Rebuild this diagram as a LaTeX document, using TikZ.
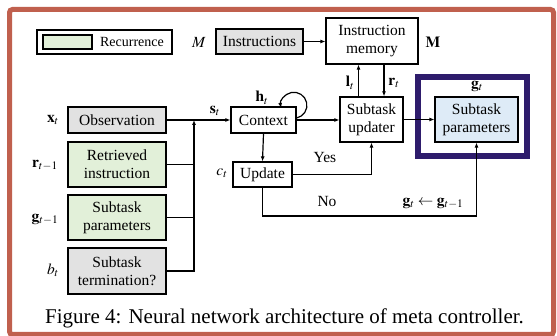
\documentclass[tikz,border=0pt]{standalone}
\usepackage{mathptmx}
\usepackage{fontspec}
\setmainfont{Liberation Serif}
\usetikzlibrary{arrows.meta}
\definecolor{framered}{RGB}{192,96,78}
\definecolor{gatepurple}{RGB}{46,28,108}
\definecolor{recgreen}{RGB}{226,240,217}
\definecolor{inputgray}{RGB}{226,226,226}
\definecolor{parblue}{RGB}{222,235,247}

\begin{document}
\begin{tikzpicture}[x=1pt,y=1pt]
  \tikzstyle{every node}+=[inner sep=0pt, font=\fontsize{15.5}{18}\selectfont]
  \tikzstyle{box}=[draw=black, line width=1.2pt, align=center]
  \tikzstyle{wire}=[line width=1.2pt]
  \tikzstyle{arr}=[line width=1.2pt, -{Latex[length=5pt,width=4pt]}]
  \useasboundingbox (0,0) rectangle (557,-336);
  \draw [framered, line width=5pt, rounded corners=3pt] (9.5,-9.5) rectangle (553.5,-334.5);
  % legend
  \node [box, minimum width=135, minimum height=24] (legend) at (104.5,-42) {};
  \node [box, fill=recgreen, minimum width=49, minimum height=14] (swatch) at (67.5,-42) {};
  \node [font=\fontsize{14}{16}\selectfont] (legendtext) at (132,-42) {Recurrence};
  % memory part
  \node (mlabel) at (199,-42) {$M$};
  \node [box, fill=inputgray, minimum width=87, minimum height=25] (instr) at (259.5,-41.5) {Instructions};
  \node [box, minimum width=92, minimum height=46] (mem) at (372,-41) {Instruction\\memory};
  \node (memlabel) at (433,-42) {$\mathbf{M}$};
  \node [box, minimum width=63, minimum height=45] (upd) at (371.5,-119.5) {Subtask\\updater};
  \draw [gatepurple, line width=6pt] (418,-77) rectangle (527,-156);
  \node (gtlabel) at (477,-86) {$\mathbf{g}_t$};
  \node [box, fill=parblue, minimum width=83, minimum height=45] (par) at (476.5,-119.5) {Subtask\\parameters};
  % controller
  \node [box, minimum width=65, minimum height=26] (ctx) at (263.5,-120) {Context};
  \node [box, minimum width=59, minimum height=25] (upt) at (262.5,-174.5) {Update};
  % inputs
  \node [box, fill=inputgray, minimum width=98, minimum height=26] (obs) at (117,-120) {Observation};
  \node [box, fill=recgreen, minimum width=98, minimum height=45] (ret) at (117,-164.5) {Retrieved\\instruction};
  \node [box, fill=recgreen, minimum width=98, minimum height=45] (gpar) at (117,-217.5) {Subtask\\parameters};
  \node [box, fill=inputgray, minimum width=98, minimum height=46] (term) at (117,-271) {Subtask\\termination?};
  \node (xlabel) at (53,-120) {$\mathbf{x}_t$};
  \node (rlabel) at (45,-165) {$\mathbf{r}_{t-1}$};
  \node (glabel) at (45,-219) {$\mathbf{g}_{t-1}$};
  \node (blabel) at (53,-270) {$b_t$};
  \node (slabel) at (215,-111) {$\mathbf{s}_t$};
  \node (hlabel) at (262,-98) {$\mathbf{h}_t$};
  \node (clabel) at (222,-173) {$c_t$};
  \node (llabel) at (350,-83) {$\mathbf{l}_t$};
  \node (rtlabel) at (394,-83) {$\mathbf{r}_t$};
  \node (yes) at (325,-158) {Yes};
  \node (no) at (327,-202) {No};
  \node (keep) at (433,-203) {$\mathbf{g}_t \leftarrow \mathbf{g}_{t-1}$};
  % connectors
  \coordinate (bus) at (194,-120);
  \coordinate (nobend) at (262.5,-216);
  \draw [arr] (obs.east) -- (ctx.west);
  \draw [arr] (term.east) -| (bus);
  \draw [wire] (ret.east) -- (ret.east -| bus);
  \draw [wire] (gpar.east) -- (gpar.east -| bus);
  \draw [arr] (instr.east) -- (instr.east -| mem.west);
  \draw [arr] ([xshift=-13]upd.north) -- ([xshift=-13]upd.north |- mem.south);
  \draw [arr] ([xshift=12]mem.south |- mem.south) ++(0,0) coordinate (rtop) -- (rtop |- upd.north);
  \draw [arr] (ctx.east) -- (ctx.east -| upd.west);
  \draw [arr] (upd.east) -- (upd.east -| par.west);
  \draw [arr] ([yshift=2]ctx.east) arc (-78:192:13pt);
  \draw [arr] (ctx.south) -- (upt.north);
  \draw [arr] (upt.east) -| (upd.south);
  \draw [arr] (upt.south) -- (nobend) -| (par.south);
  % caption
  \node [anchor=base, font=\fontsize{21}{24}\selectfont] (caption) at (284.5,-324) {Figure 4: Neural network architecture of meta controller.};
\end{tikzpicture}
\end{document}
